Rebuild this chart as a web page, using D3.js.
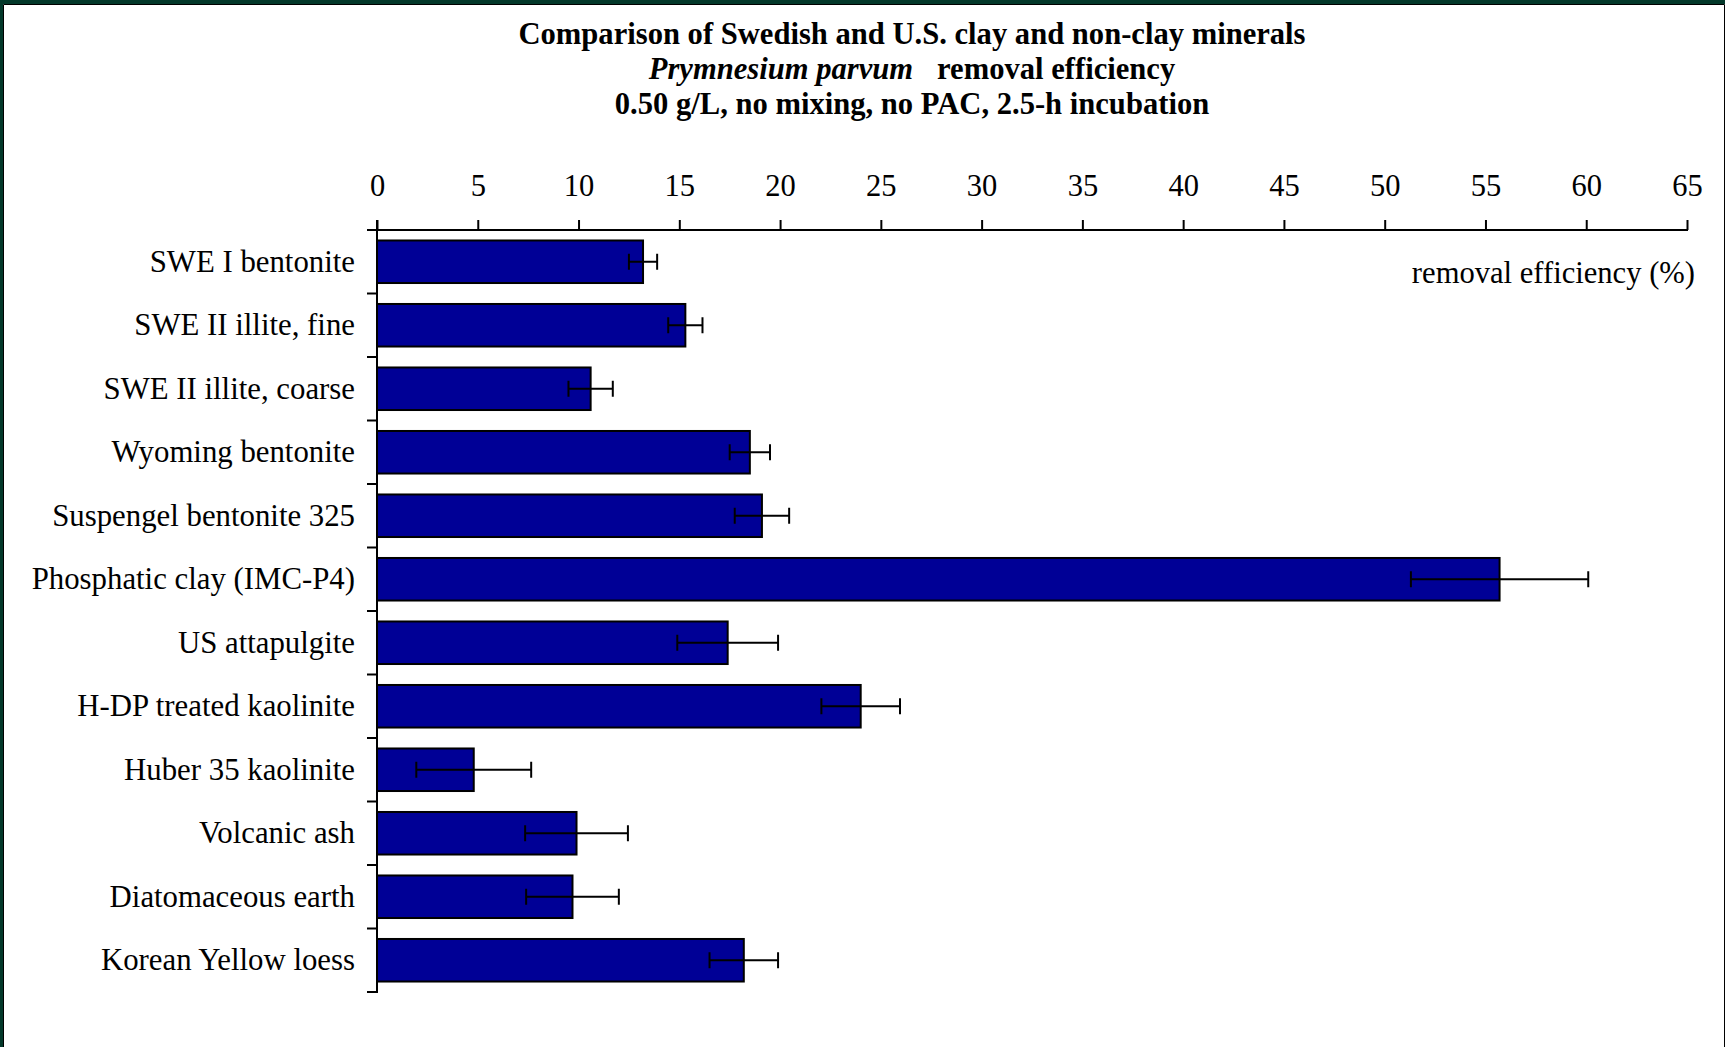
<!DOCTYPE html>
<html>
<head>
<meta charset="utf-8">
<script src="https://cdn.jsdelivr.net/npm/d3@7"></script>
<style>
  html, body { margin: 0; padding: 0; background: #ffffff; overflow: hidden; }
  svg { display: block; }
  text { font-family: "Liberation Serif", "Times New Roman", serif; fill: #000; }
</style>
</head>
<body>
<svg id="chart" width="1725" height="1047"></svg>
<script>
// Materials tested, top to bottom
const categories = [
  "SWE I bentonite",
  "SWE II illite, fine",
  "SWE II illite, coarse",
  "Wyoming bentonite",
  "Suspengel bentonite 325",
  "Phosphatic clay (IMC-P4)",
  "US attapulgite",
  "H-DP treated kaolinite",
  "Huber 35 kaolinite",
  "Volcanic ash",
  "Diatomaceous earth",
  "Korean Yellow loess"
];

// Mean removal efficiency (%)
const removal = [13.2, 15.3, 10.6, 18.5, 19.1, 55.7, 17.4, 24.0, 4.8, 9.9, 9.7, 18.2];

// Error (± %)
const errors = [0.7, 0.85, 1.1, 1.0, 1.35, 4.4, 2.5, 1.95, 2.85, 2.55, 2.3, 1.7];

// Axis ticks
const xTicks = [0, 5, 10, 15, 20, 25, 30, 35, 40, 45, 50, 55, 60, 65];

const svg = d3.select("#chart");
const W = 1725, H = 1047;
const FONT = "'Liberation Serif', 'Times New Roman', serif";

// Frame: dark green edge with a thin black rule around the white page
svg.append("rect").attr("x", 0).attr("y", 0).attr("width", W).attr("height", H).attr("fill", "#03382a");
svg.append("rect").attr("x", 3).attr("y", 4).attr("width", W - 3).attr("height", H - 4).attr("fill", "#ffffff");
svg.append("path")
  .attr("d", `M3.5,${H} V4.5 H1724.5 V${H}`)
  .attr("fill", "none").attr("stroke", "#000").attr("stroke-width", 1);

// Title
const title = svg.append("g").attr("font-family", FONT).attr("font-weight", "bold")
  .attr("font-size", 30.6).attr("text-anchor", "middle");
title.append("text").attr("x", 912).attr("y", 44)
  .text("Comparison of Swedish and U.S. clay and non-clay minerals");
const t2 = title.append("text").attr("x", 912).attr("y", 79);
t2.append("tspan").attr("font-style", "italic").text("Prymnesium parvum");
t2.append("tspan").attr("dx", 24).text("removal efficiency");
title.append("text").attr("x", 912).attr("y", 114)
  .text("0.50 g/L, no mixing, no PAC, 2.5-h incubation");

// Scales
const x0 = 377, x1 = 1687, yTop = 230, yBot = 992;
const x = d3.scaleLinear().domain([0, 65]).range([x0, x1]);
const y = d3.scaleBand().domain(categories).range([yTop, yBot])
  .paddingInner(0.33).paddingOuter(0.165);

// Bars
svg.append("g").selectAll("rect")
  .data(categories)
  .join("rect")
  .attr("x", x(0))
  .attr("y", d => y(d))
  .attr("width", (d, i) => x(removal[i]) - x(0))
  .attr("height", y.bandwidth())
  .attr("fill", "#000096")
  .attr("stroke", "#000")
  .attr("stroke-width", 2);

// Error bars
const eb = svg.append("g").attr("stroke", "#000").attr("stroke-width", 2).attr("fill", "none");
categories.forEach((c, i) => {
  const cy = y(c) + y.bandwidth() / 2;
  const lo = x(removal[i] - errors[i]), hi = x(removal[i] + errors[i]);
  eb.append("line").attr("x1", lo).attr("x2", hi).attr("y1", cy).attr("y2", cy);
  eb.append("line").attr("x1", lo).attr("x2", lo).attr("y1", cy - 8).attr("y2", cy + 8);
  eb.append("line").attr("x1", hi).attr("x2", hi).attr("y1", cy - 8).attr("y2", cy + 8);
});

// X axis on top
const xAxis = svg.append("g")
  .attr("transform", `translate(0,${yTop})`)
  .call(d3.axisTop(x).tickValues(xTicks).tickSize(10).tickSizeOuter(0).tickPadding(24).tickFormat(d3.format("d")));
xAxis.attr("font-family", FONT).attr("font-size", 30.5);
xAxis.select(".domain").remove();
xAxis.selectAll(".tick line").attr("stroke", "#000").attr("stroke-width", 2);
svg.append("line").attr("x1", x0 - 10).attr("x2", x1 + 1).attr("y1", yTop).attr("y2", yTop)
  .attr("stroke", "#000").attr("stroke-width", 2);

// Y axis: category labels
const yAxis = svg.append("g")
  .attr("transform", `translate(${x0},0)`)
  .call(d3.axisLeft(y).tickSize(0).tickPadding(22));
yAxis.attr("font-family", FONT).attr("font-size", 30.8);
yAxis.select(".domain").remove();

// Y axis line and ticks between categories
svg.append("line").attr("x1", x0).attr("x2", x0).attr("y1", yTop - 10).attr("y2", yBot + 1)
  .attr("stroke", "#000").attr("stroke-width", 2);
const step = y.step();
const bounds = categories.map((c, i) => y(c) - step * y.paddingInner() / 2 + step);
svg.append("g").selectAll("line")
  .data(bounds)
  .join("line")
  .attr("x1", x0 - 10).attr("x2", x0)
  .attr("y1", d => d).attr("y2", d => d)
  .attr("stroke", "#000").attr("stroke-width", 2);

// Axis title
svg.append("text").attr("x", 1695).attr("y", 283).attr("text-anchor", "end")
  .attr("font-family", FONT).attr("font-size", 30.6).text("removal efficiency (%)");
</script>
</body>
</html>
